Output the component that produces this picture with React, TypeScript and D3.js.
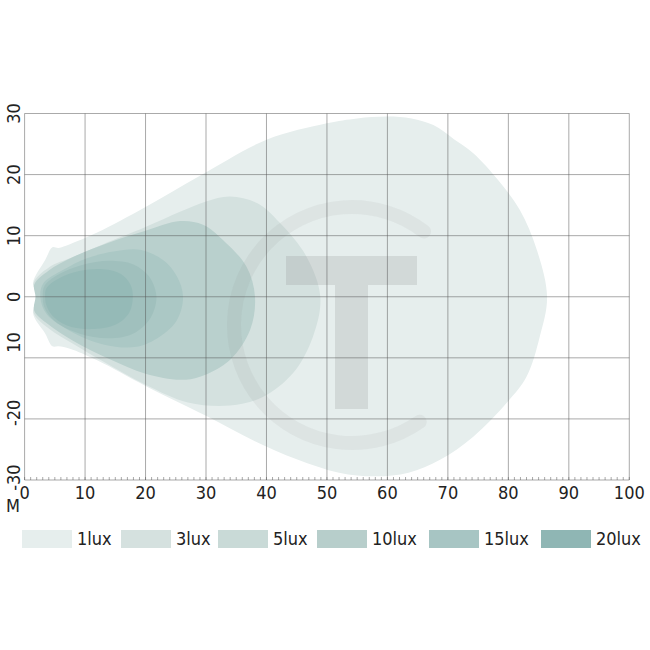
import React from "react";
import * as d3 from "d3";

type Pt = [number, number];

// Isolux contours (distance m, lateral m)
const lux1: Pt[] = [
  [2.3, 0], [1.4, 2.2], [3.4, 6.0], [4.6, 8.1], [5.6, 8.0], [7.5, 8.6], [12, 10.5], [20, 14.7],
  [29, 19.8], [40, 25.7], [50, 28.4], [55, 29.2], [60, 29.5], [64, 29.2], [67.6, 28.1], [71, 25.8],
  [74.2, 23.5], [78.3, 19.1], [81.9, 14.2], [84.7, 7.7], [86.4, 0], [85.2, -6.5], [83, -13.1],
  [79.7, -17.4], [74.2, -22.9], [68.7, -26.7], [63.5, -28.8], [58, -29.4], [52, -28.8], [45, -26.6],
  [38, -23.6], [30, -19.5], [20, -14.6], [12, -10.4], [7.5, -8.5], [5.6, -8.1], [4.6, -8.1],
  [3.4, -6.0], [1.4, -2.7],
];
const lux3: Pt[] = [
  [2, 0], [1.5, 2.3], [4, 4.8], [8, 6.5], [13, 8.6], [20, 11.4], [25.7, 13.9], [30, 15.6], [34, 16.4],
  [38.5, 15.3], [42.2, 12.1], [46.6, 6.6], [48.9, 0], [47.7, -6.5], [44.4, -12.5], [39.4, -16.4],
  [34, -17.8], [27, -17.3], [20, -14.4], [13, -10.6], [8, -7.7], [4, -5.2], [1.5, -2.6],
];
const lux5: Pt[] = [
  [1.8, 0], [1.6, 2], [4, 4.3], [8, 6.5], [14, 8.9], [20, 10.8], [25.7, 12.4], [29.5, 11.8],
  [32.8, 9.3], [36.7, 4.9], [38.1, 0], [37.3, -5.4], [34, -10.3], [29, -13.1], [25.7, -13.6],
  [20, -12.6], [14, -10.2], [8, -7.2], [4, -4.6], [1.6, -2.3],
];
const lux10: Pt[] = [
  [2.6, 0], [3.1, 2.2], [6.4, 4.4], [10.3, 6.3], [14.7, 7.4], [19.1, 7.7], [22.9, 6.0], [25.2, 3.3],
  [26.2, 0], [25.2, -3.8], [22.4, -6.5], [18.5, -8.2], [13, -7.8], [7.5, -5.6], [3.6, -2.8],
];
const lux15: Pt[] = [
  [3, 0], [3.3, 1.8], [5.5, 3.6], [9.5, 5.2], [14, 5.9], [18, 5.3], [20.6, 3.3], [21.8, 0],
  [20.8, -3.5], [18, -6], [14, -6.8], [9, -6], [5, -4], [3.3, -1.8],
];
const lux20: Pt[] = [
  [3.4, 0], [3.6, 1.4], [5.5, 2.9], [9, 4.2], [13, 4.5], [16, 3.7], [17.5, 2], [17.9, 0],
  [17.3, -2.6], [15, -4.6], [11, -5.3], [7, -4.7], [4.6, -3.1], [3.6, -1.4],
];

const legendLabels = ["1lux", "3lux", "5lux", "10lux", "15lux", "20lux"];
const xTicks = [0, 10, 20, 30, 40, 50, 60, 70, 80, 90, 100];
const yGrid = [-20, -10, 0, 10, 20];
const yTickLabels = ["30", "20", "10", "0", "10", "-20", "-30"];
const yTickLabelAt = [30, 20, 10, 0, -7.5, -19, -29.6];

// styling
const shapeFills = ["#e6eeed", "#d4e1df", "#b9d0cd", "#abc8c5", "#a0c0bd", "#95bab7"];
const legendFills = ["#e6eeed", "#d5e1df", "#c9dad7", "#b7cecb", "#a7c5c3", "#8fb6b4"];
const legendRectX = [22, 121, 218, 317, 429, 541];
const FONT = "'Liberation Sans Narrow', 'DejaVu Sans Condensed', 'Arial Narrow', sans-serif";

export default function App() {
  const x = d3.scaleLinear().domain([0, 100]).range([24.6, 629.3]);
  const y = d3.scaleLinear().domain([-30, 30]).range([480, 113.5]);
  const line = d3
    .line<Pt>()
    .x((d) => x(d[0]))
    .y((d) => y(d[1]))
    .curve(d3.curveCatmullRomClosed.alpha(0.5));
  const shapes = [lux1, lux3, lux5, lux10, lux15, lux20];

  // watermark geometry
  const cx = 352, cy = 325, r = 118;
  const p = d3.path();
  p.arc(cx, cy, r, (55 * Math.PI) / 180, (307.6 * Math.PI) / 180, false);

  const minor = d3.range(0, 101, 1);
  const gridColor = "#555";
  return (
    <svg width={650} height={650} style={{ position: "absolute", left: 0, top: 0, background: "#fff" }}>
      {shapes.map((s, i) => (
        <path key={i} d={line(s) || ""} fill={shapeFills[i]} />
      ))}
      {/* watermark */}
      <path d={p.toString()} fill="none" stroke="#808080" strokeOpacity={0.09} strokeWidth={14} strokeLinecap="round" />
      <g fill="#808080" fillOpacity={0.19}>
        <rect x={286} y={256} width={131} height={29} />
        <rect x={335} y={285} width={33} height={124} />
      </g>
      {/* grid */}
      <g stroke={gridColor} strokeOpacity={0.5} strokeWidth={1}>
        {xTicks.map((t) => (
          <line key={"v" + t} x1={x(t)} x2={x(t)} y1={y(30)} y2={y(-30)} />
        ))}
        {yGrid.map((t) => (
          <line key={"h" + t} x1={x(0)} x2={x(100)} y1={y(t)} y2={y(t)} />
        ))}
        <line x1={x(0)} x2={x(100)} y1={y(30)} y2={y(30)} />
        <line x1={x(0)} x2={x(100)} y1={y(-30)} y2={y(-30)} />
        {minor.map((t) => (
          <line key={"m" + t} x1={x(t)} x2={x(t)} y1={y(-30)} y2={y(-30) - 3} />
        ))}
      </g>
      {/* x labels */}
      <g fontFamily={FONT} fontSize={18} fill="#222" textAnchor="middle">
        {xTicks.map((t) => (
          <text key={t} x={x(t) + (t === 0 ? 0 : 0)} y={499}>
            {String(t)}
          </text>
        ))}
        <text x={13} y={512}>M</text>
      </g>
      {/* y labels */}
      <g fontFamily={FONT} fontSize={18} fill="#222" textAnchor="middle">
        {yTickLabels.map((s, i) => (
          <text key={i} transform={`translate(20,${y(yTickLabelAt[i])}) rotate(-90)`}>
            {s}
          </text>
        ))}
      </g>
      {/* legend */}
      <g fontFamily={FONT} fontSize={18} fill="#222">
        {legendLabels.map((s, i) => (
          <g key={s}>
            <rect x={legendRectX[i]} y={530} width={50} height={18} fill={legendFills[i]} />
            <text x={legendRectX[i] + 55} y={545}>
              {s}
            </text>
          </g>
        ))}
      </g>
    </svg>
  );
}
